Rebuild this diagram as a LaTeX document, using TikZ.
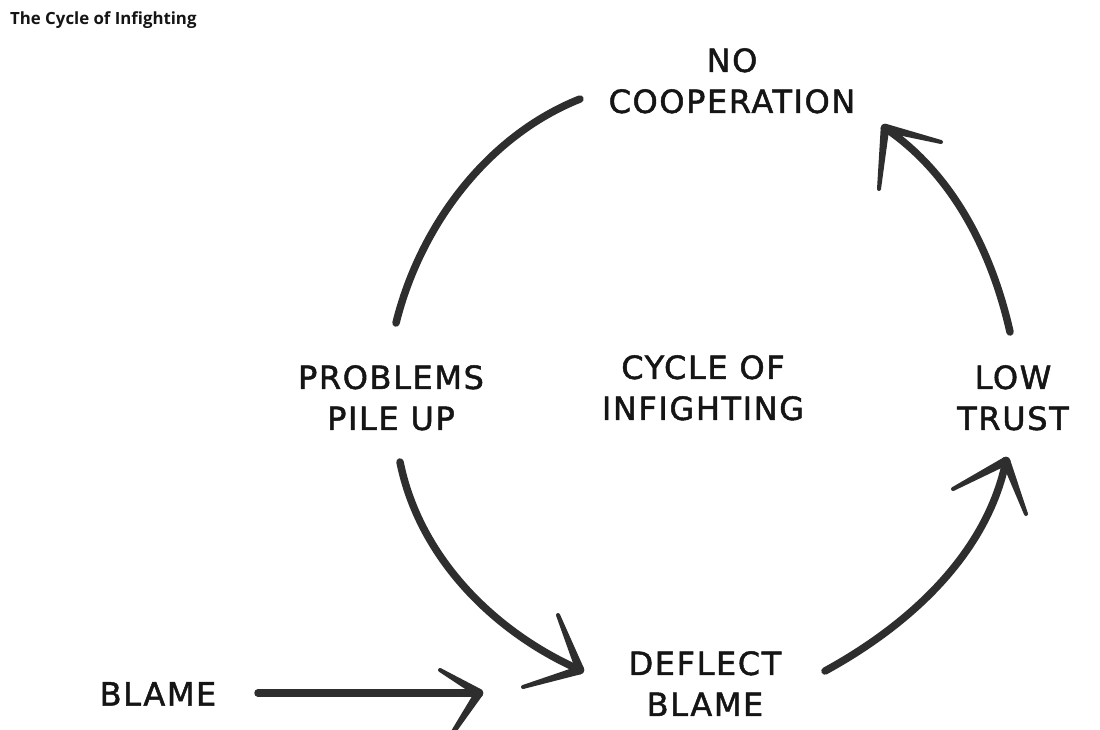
\documentclass[tikz,border=0pt]{standalone}
\usepackage{fontspec}
\setmainfont{DejaVu Sans}
\newfontfamily\titlefont{Open Sans}
\usetikzlibrary{calc}
\definecolor{ink}{HTML}{2E2E2E}
\definecolor{txt}{HTML}{151515}
\newcommand\inkbarb[2]{%
  \fill[ink] ($(#1)!4.3pt!90:(#2)$) -- ($(#2)!2pt!-90:(#1)$) -- ($(#2)!2pt!90:(#1)$) -- ($(#1)!4.3pt!-90:(#2)$) -- cycle;
  \fill[ink] (#1) circle (4.3);
  \fill[ink] (#2) circle (2);}
\tikzset{
  hand/.style={font=\fontsize{32}{41}\selectfont\addfontfeatures{LetterSpace=5,FakeBold=1.5}, text=txt, align=center, inner sep=0pt, anchor=north},
  shaft/.style={draw=ink, line width=7.5, line cap=round},
}
\begin{document}
\begin{tikzpicture}[x=1pt,y=-1pt]
\useasboundingbox (0,0) rectangle (1100,730);
\fill[white] (0,0) rectangle (1100,730);
\clip (0,0) rectangle (1100,730);
% title
\node[anchor=base west, inner sep=0pt, font=\titlefont\bfseries\fontsize{16.8}{20}\selectfont, text=txt] (title) at (10,25) {The Cycle of Infighting};
% labels
\node[hand] (coop) at (732,48) {NO\\COOPERATION};
\node[hand] (cycle) at (703,355) {CYCLE OF\\INFIGHTING};
\node[hand] (problems) at (391,365) {PROBLEMS\\PILE UP};
\node[hand] (trust) at (1013,365) {LOW\\TRUST};
\node[hand] (deflect) at (705,651) {DEFLECT\\BLAME};
\node[hand] (blame) at (158,682) {BLAME};
% connector end points
\coordinate (a1s) at (580,99);
\coordinate (a1e) at (396,323);
\coordinate (a2s) at (1010,332);
\coordinate (a2t) at (885,128);
\coordinate (a2b1) at (879,189);
\coordinate (a2b2) at (941,142);
\coordinate (a3s) at (400,462);
\coordinate (a3t) at (580,670);
\coordinate (a3b1) at (558,615);
\coordinate (a3b2) at (523,687);
\coordinate (a4s) at (825,671);
\coordinate (a4t) at (1006,461);
\coordinate (a4b1) at (953,489);
\coordinate (a4b2) at (1026,514);
\coordinate (a5s) at (258,693);
\coordinate (a5t) at (479,693);
\coordinate (a5b1) at (440,670);
\coordinate (a5b2) at (448,740);
% problems pile up -> no cooperation (plain arc)
\draw[shaft] (a1s) .. controls (487,136) and (420,226) .. (a1e);
% low trust -> no cooperation
\draw[shaft] (a2s) .. controls (992,252) and (953,174) .. (a2t);
\inkbarb{a2t}{a2b1}
\inkbarb{a2t}{a2b2}
% problems pile up -> deflect blame
\draw[shaft] (a3s) .. controls (419,556) and (492,631) .. (a3t);
\inkbarb{a3t}{a3b1}
\inkbarb{a3t}{a3b2}
% deflect blame -> low trust
\draw[shaft] (a4s) .. controls (911,624) and (987,553) .. (a4t);
\inkbarb{a4t}{a4b1}
\inkbarb{a4t}{a4b2}
% blame -> deflect blame
\draw[shaft] (a5s) -- (a5t);
\inkbarb{a5t}{a5b1}
\inkbarb{a5t}{a5b2}
\end{tikzpicture}
\end{document}
